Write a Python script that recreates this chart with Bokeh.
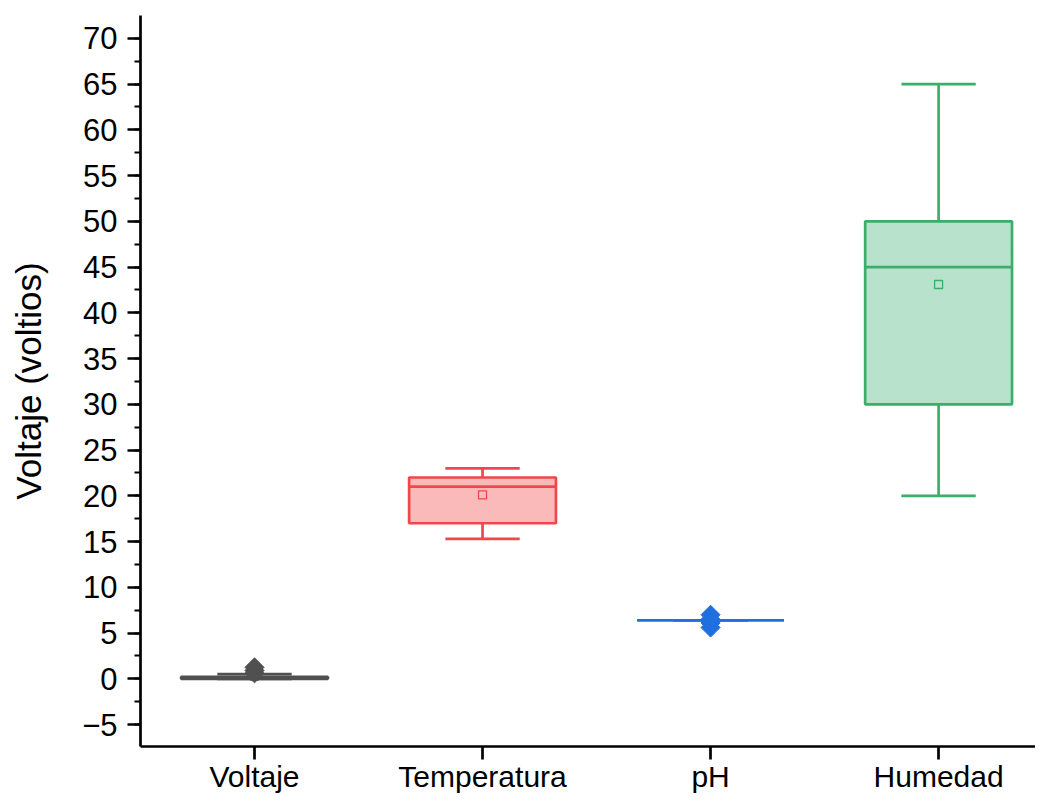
import math
from bokeh.plotting import figure
from bokeh.models import FixedTicker, Range1d, ColumnDataSource
from bokeh.embed import file_html
from bokeh.resources import INLINE

cats = ["Voltaje", "Temperatura", "pH", "Humedad"]
xpos = [1, 2, 3, 4]
lower = [0.0, 15.3, 6.4, 20.0]
q1 = [0.0, 17.0, 6.4, 30.0]
median = [0.05, 21.0, 6.4, 45.0]
q3 = [0.2, 22.0, 6.4, 50.0]
upper = [0.5, 23.0, 6.4, 65.0]
mean = [0.3, 20.1, 6.4, 43.1]
out_x = [1, 1, 1, 3, 3, 3, 3]
out_y = [1.25, 0.9, 0.6, 7.0, 6.5, 6.1, 5.6]
line_colors = ["#505050", "#F0474A", "#1F6FE0", "#3AAE6A"]
fill_colors = ["#8A8A8A", "#FBBABA", "#A9C8F3", "#B9E2CC"]
out_colors = ["#505050", "#505050", "#505050", "#1F6FE0", "#1F6FE0", "#1F6FE0", "#1F6FE0"]

FONT = "Liberation Sans"

p = figure(width=1035, height=795, output_backend="svg", toolbar_location=None,
           x_range=Range1d(0.5, 4.425), y_range=Range1d(-7.4, 72.5),
           min_border_left=140, min_border_right=0, min_border_top=15, min_border_bottom=47)
p.outline_line_color = None
p.xgrid.visible = False
p.ygrid.visible = False
p.background_fill_color = "white"
p.border_fill_color = "white"

src = ColumnDataSource(dict(x=xpos, lower=lower, q1=q1, median=median, q3=q3, upper=upper,
                            mean=mean, lc=line_colors, fc=fill_colors,
                            bl=[x - 0.322 for x in xpos], br=[x + 0.322 for x in xpos],
                            cl=[x - 0.163 for x in xpos], cr=[x + 0.163 for x in xpos]))

LW = 2.7
# whiskers
p.segment(x0="x", y0="q3", x1="x", y1="upper", source=src, line_color="lc", line_width=LW)
p.segment(x0="x", y0="q1", x1="x", y1="lower", source=src, line_color="lc", line_width=LW)
p.segment(x0="cl", y0="upper", x1="cr", y1="upper", source=src, line_color="lc", line_width=LW)
p.segment(x0="cl", y0="lower", x1="cr", y1="lower", source=src, line_color="lc", line_width=LW)
# boxes
p.vbar(x="x", width=0.644, bottom="q1", top="q3", source=src, fill_color="fc",
       line_color="lc", line_width=LW)
p.segment(x0="bl", y0="median", x1="br", y1="median", source=src, line_color="lc", line_width=LW)
# means
p.scatter(x="x", y="mean", source=src, marker="square", size=8, fill_color="fc",
          line_color="lc", line_width=1.3)
# outliers (diamonds = squares turned 45 degrees)
p.scatter(x=out_x, y=out_y, marker="square", size=13.5, angle=math.pi / 4,
          fill_color=out_colors, line_color=out_colors, line_width=1)

# axes
p.xaxis.ticker = FixedTicker(ticks=xpos)
p.xaxis.major_label_overrides = {x: c for x, c in zip(xpos, cats)}
p.xaxis.minor_tick_line_color = None
p.yaxis.ticker = FixedTicker(ticks=list(range(-5, 71, 5)),
                             minor_ticks=[v / 2 for v in range(-15, 145, 5)])
p.yaxis.axis_label = "Voltaje (voltios)"
for ax in (p.xaxis[0], p.yaxis[0]):
    ax.axis_line_width = 2.7
    ax.axis_line_color = "black"
    ax.major_tick_line_width = 2.7
    ax.major_tick_line_color = "black"
    ax.major_tick_in = 0
    ax.major_tick_out = 13
    ax.minor_tick_in = 0
    ax.minor_tick_out = 6
    ax.minor_tick_line_width = 2.2
    ax.minor_tick_line_color = "black"
    ax.major_label_text_font = FONT
    ax.major_label_text_color = "black"
p.yaxis.major_label_text_font_size = "31px"
p.xaxis.major_label_text_font_size = "30px"
p.xaxis.major_label_standoff = 0
p.yaxis.major_label_standoff = 10
p.yaxis.axis_label_text_font = FONT
p.yaxis.axis_label_text_font_size = "35px"
p.yaxis.axis_label_text_font_style = "normal"
p.yaxis.axis_label_text_color = "black"
p.yaxis.axis_label_standoff = 31

open("out.html", "w").write(file_html(p, INLINE))
